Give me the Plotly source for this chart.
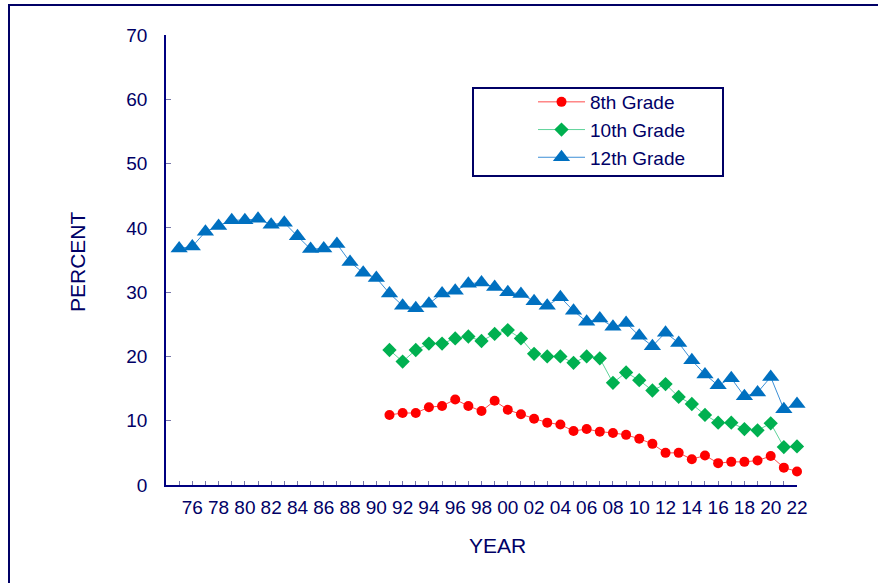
import plotly.graph_objects as go

years_12 = list(range(1975, 2023))
grade12 = [36.8, 37.1, 39.4, 40.3, 41.2, 41.2, 41.4, 40.5, 40.8, 38.7,
           36.7, 36.8, 37.5, 34.7, 33.0, 32.2, 29.8, 27.9, 27.5, 28.2,
           29.8, 30.2, 31.3, 31.5, 30.8, 30.0, 29.7, 28.6, 27.9, 29.2,
           27.1, 25.4, 25.9, 24.6, 25.2, 23.2, 21.6, 23.7, 22.1, 19.4,
           17.2, 15.5, 16.6, 13.8, 14.4, 16.8, 11.8, 12.6]

years_8_10 = list(range(1991, 2023))
grade10 = [21.0, 19.2, 21.0, 22.0, 22.0, 22.8, 23.1, 22.4, 23.5, 24.1,
           22.8, 20.4, 20.0, 20.0, 19.0, 20.0, 19.7, 15.9, 17.5, 16.3,
           14.7, 15.7, 13.7, 12.6, 10.9, 9.7, 9.7, 8.7, 8.5, 9.6,
           5.9, 6.0]
grade8 = [10.9, 11.2, 11.2, 12.1, 12.3, 13.3, 12.3, 11.5, 13.1, 11.7,
          11.0, 10.3, 9.7, 9.4, 8.4, 8.7, 8.3, 8.1, 7.8, 7.2,
          6.4, 5.0, 5.0, 4.0, 4.6, 3.4, 3.6, 3.6, 3.8, 4.5,
          2.7, 2.1]

tick_years = list(range(1975, 2023))
tick_labels = [f"{y % 100:02d}" if y % 2 == 0 else "" for y in tick_years]

NAVY = "#000066"
FONT = "Liberation Sans, Arial, sans-serif"

fig = go.Figure()
fig.add_trace(go.Scatter(
    x=years_8_10, y=grade8, name="8th Grade", mode="lines+markers",
    line=dict(color="#ff4a4a", width=1), cliponaxis=False,
    marker=dict(symbol="circle", size=10, color="#ff0000", line=dict(width=0))))
fig.add_trace(go.Scatter(
    x=years_8_10, y=grade10, name="10th Grade", mode="lines+markers",
    line=dict(color="#5fd39a", width=1), cliponaxis=False,
    marker=dict(symbol="diamond", size=11, color="#00b050", line=dict(width=0))))
fig.add_trace(go.Scatter(
    x=years_12, y=grade12, name="12th Grade", mode="lines+markers",
    line=dict(color="#3c8fd6", width=1), cliponaxis=False,
    marker=dict(symbol="triangle-up", size=15, color="#0070c0", line=dict(width=0))))

W, H = 878, 583
L, R, T, B = 166, 81, 35, 98
pw, ph = W - L - R, H - T - B

def px(x):
    return (x - L) / pw

def py(y):
    return (H - B - y) / ph

fig.update_layout(
    width=W, height=H,
    margin=dict(l=L, r=R, t=T, b=B, autoexpand=False),
    paper_bgcolor="white", plot_bgcolor="white",
    font=dict(family=FONT, color=NAVY, size=19),
    showlegend=True,
    legend=dict(x=px(533), y=py(83), xanchor="left", yanchor="top",
                bgcolor="rgba(0,0,0,0)", borderwidth=0,
                font=dict(size=19, color=NAVY), itemwidth=47,
                tracegroupgap=0),
    xaxis=dict(range=[1974, 2022], tickmode="array", tickvals=tick_years,
               ticktext=tick_labels, ticks="inside", ticklen=4,
               tickcolor="#7777aa", tickangle=0,
               showline=True, linecolor="#000080", linewidth=1.5,
               showgrid=False, zeroline=False,
               tickfont=dict(size=19, color=NAVY), ticklabelstandoff=4),
    yaxis=dict(range=[0, 70], dtick=10, ticks="inside", ticklen=5,
               tickcolor="#7777aa",
               showline=True, linecolor="#000080", linewidth=1.5,
               showgrid=False, zeroline=False,
               tickfont=dict(size=19, color=NAVY), ticklabelstandoff=13),
    annotations=[
        dict(text="YEAR", x=px(497), y=py(545), xref="paper", yref="paper",
             xanchor="center", yanchor="middle",
             showarrow=False, font=dict(size=21, color=NAVY)),
        dict(text="PERCENT", x=px(77), y=py(262), xref="paper", yref="paper",
             xanchor="center", yanchor="middle",
             showarrow=False, textangle=-90, font=dict(size=21, color=NAVY)),
    ],
    shapes=[
        dict(type="rect", xref="paper", yref="paper",
             x0=px(473), x1=px(723), y0=py(176), y1=py(88),
             line=dict(color="#000066", width=2), fillcolor="rgba(0,0,0,0)",
             layer="above"),
        dict(type="rect", xref="paper", yref="paper",
             x0=px(9), x1=px(1000), y0=py(700), y1=py(5),
             line=dict(color="#000066", width=2), fillcolor="rgba(0,0,0,0)",
             layer="below"),
    ],
)

fig.write_html("out.html", config={"displayModeBar": False},
               post_script="document.body.style.margin='0';document.body.style.overflow='hidden';")
